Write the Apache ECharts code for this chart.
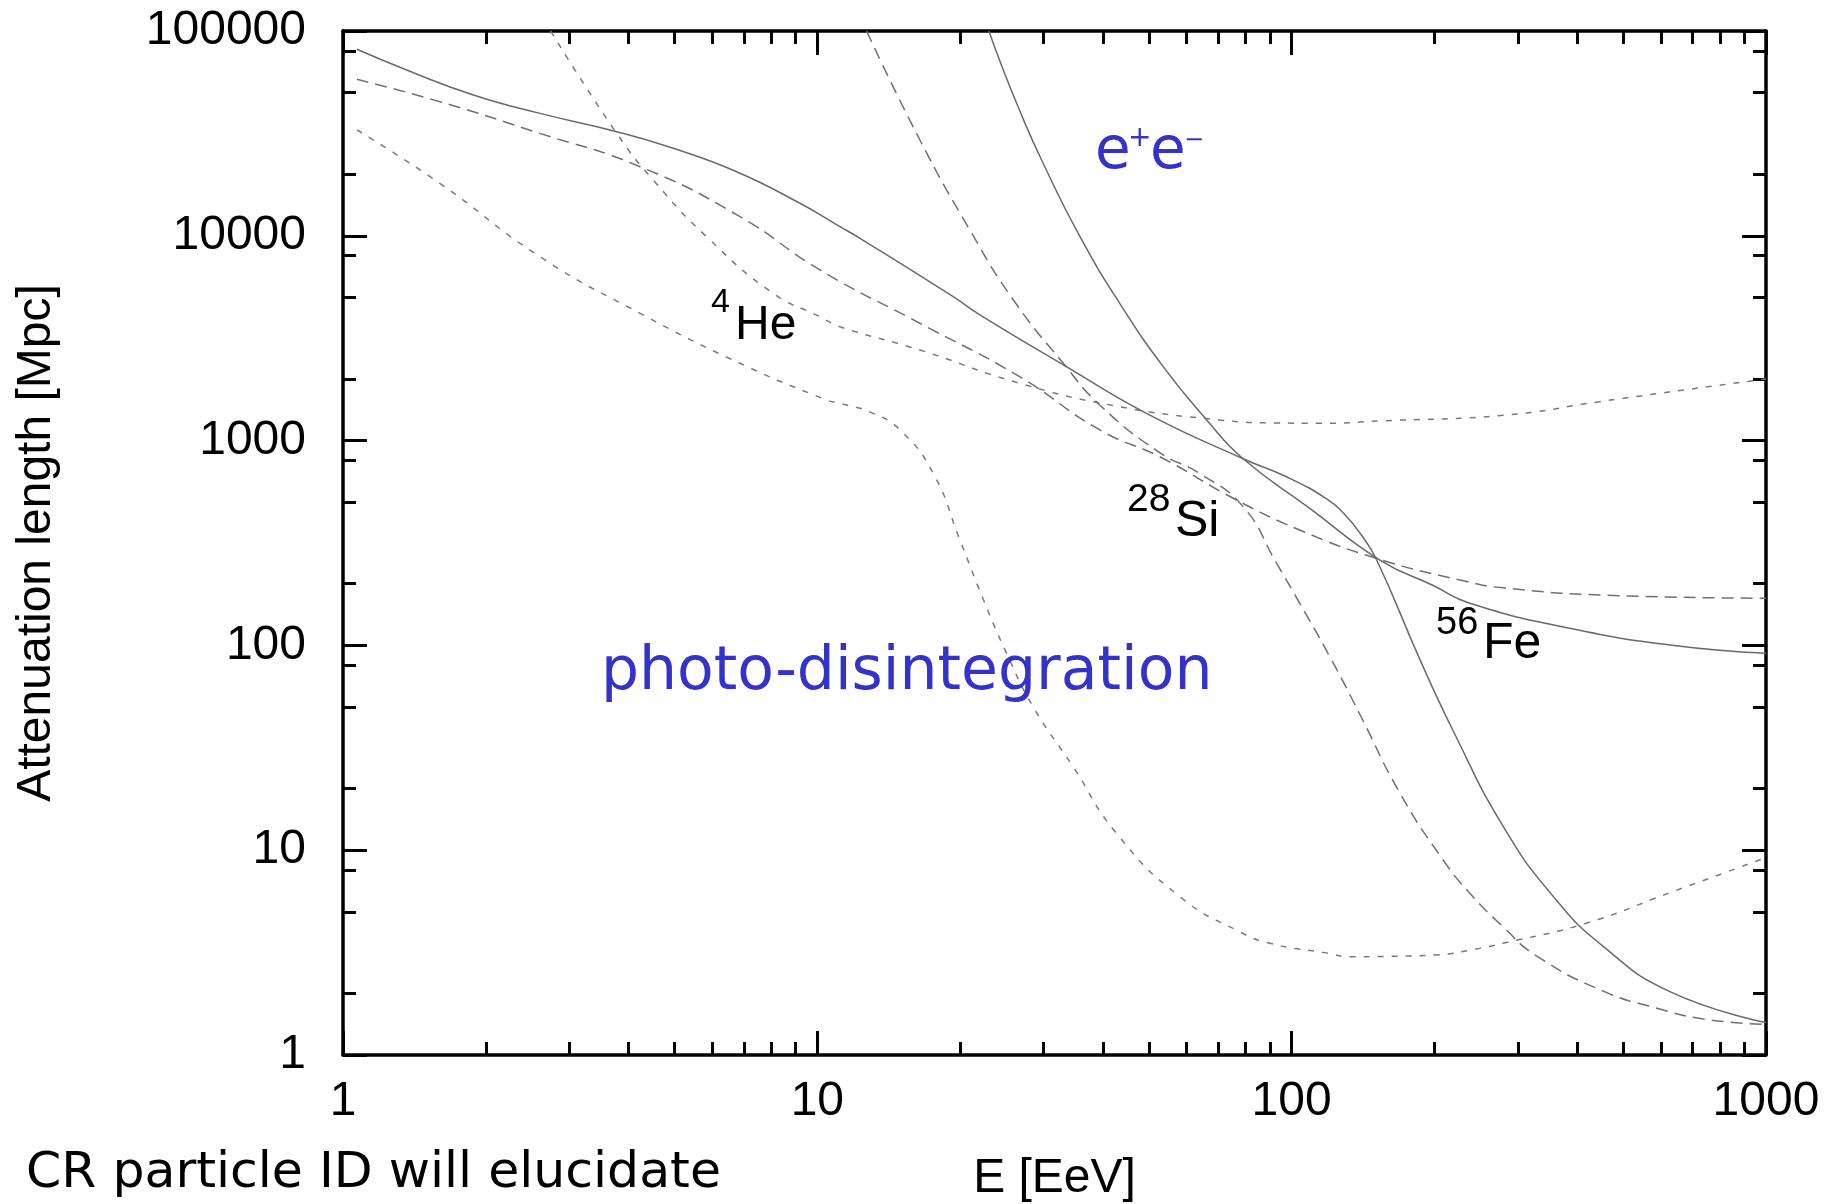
<!DOCTYPE html>
<html>
<head>
<meta charset="utf-8">
<script src="https://cdn.jsdelivr.net/npm/echarts@6/dist/echarts.min.js"></script>
<style>
html,body{margin:0;padding:0;background:#ffffff;}
#chart{width:1848px;height:1204px;}
</style>
</head>
<body>
<div id="chart"></div>
<script>
// ---------- tick values ----------
const xMajorTicks = [1, 10, 100, 1000];
const xMinorTicks = [2, 3, 4, 5, 6, 7, 8, 9, 20, 30, 40, 50, 60, 70, 80, 90, 200, 300, 400, 500, 600, 700, 800, 900];
const yMajorTicks = [1, 10, 100, 1000, 10000, 100000];
const yMinorTicks = [2, 5, 8, 20, 50, 80, 200, 500, 800, 2000, 5000, 8000, 20000, 50000, 80000];

// ---------- 4He (short dashes) ----------
const hePhotoE = [1.07, 1.6, 2.6, 4.23, 6.87, 10.46, 11.16, 13.0, 14.93, 17.55, 19.98, 22.4, 25.06, 28.5, 34.6, 42.7, 58.1, 77.3, 90, 116.5, 135, 156, 202, 242.6, 279, 418, 627, 1000];
const hePhotoL = [32870, 18040, 7910, 4183, 2385, 1578, 1520, 1370, 1127, 692, 327, 167, 91.5, 50.2, 25.6, 12.1, 5.93, 4.02, 3.51, 3.17, 3.02, 3.03, 3.08, 3.28, 3.51, 4.4, 6.2, 9.2];
const hePairE = [2.74, 3.776, 4.51, 5.84, 8.07, 10.13, 11.16, 16.45, 26.7, 43.4, 70.6, 92, 114.7, 156, 280.9, 446, 505, 1000];
const hePairL = [100000, 31640, 18720, 9900, 5240, 4027, 3598, 2769, 1905, 1464, 1261, 1220, 1215, 1250, 1331, 1549, 1615, 2000];

// ---------- 28Si (long dashes) ----------
const siAE = [1.07, 1.6, 2.6, 4.23, 6.87, 10.13, 16.45, 26.7, 39.4, 52.7, 75.3, 104, 151, 233.8, 279, 453.7, 1000];
const siAL = [58080, 45170, 31640, 21740, 12400, 6810, 3740, 2051, 1127, 834, 523, 366, 266, 205, 191, 176, 170];
const siBE = [12.7, 16.45, 20.97, 25.9, 33.0, 39.4, 52.5, 64.0, 79, 92.9, 104, 121.4, 139.3, 169.1, 208.6, 237.5, 279, 328, 453.7, 585, 737, 1000];
const siBL = [100000, 29370, 10670, 4860, 2385, 1493, 878, 690, 476, 252, 160.6, 84.9, 46, 19.0, 8.96, 6.16, 4.23, 3.05, 2.05, 1.70, 1.50, 1.41];

// ---------- 56Fe (solid) ----------
const fePhotoE = [1.07, 1.362, 1.883, 2.602, 3.776, 4.97, 6.76, 9.19, 11.16, 12.3, 19.34, 22.06, 33.5, 49.4, 79, 97.5, 118.5, 128.4, 139.3, 151, 186.3, 219, 279, 355.9, 453.7, 627, 1000];
const fePhotoL = [81400, 64500, 48700, 39600, 32250, 26740, 20560, 14420, 11090, 9720, 5042, 4100, 2296, 1359, 815, 666, 520, 444, 354, 262, 85.5, 38.3, 13.1, 5.95, 3.39, 2.04, 1.44];
const fePairE = [23.0, 24.3, 26.7, 29.7, 35.8, 43.4, 53.6, 66.2, 79, 109.2, 153.5, 198.8, 237.5, 386, 627, 1000];
const fePairL = [100000, 70600, 40900, 23440, 9900, 4680, 2296, 1261, 815, 467, 261, 196, 160.6, 121.2, 100.5, 91.5];

// ---------- styling ----------
const AXIS_COLOR = '#000000';
const AXIS_FONT = 'Liberation Sans';
const BLUE = '#3333cc';

function pairs(E, L) { return E.map((e, i) => [e, L[i]]); }

function curve(name, E, L, color, dash) {
  return {
    name: name, type: 'line', xAxisIndex: 0, yAxisIndex: 0,
    data: pairs(E, L), showSymbol: false, symbol: 'none',
    smooth: 0.5, clip: true, silent: true,
    lineStyle: { color: color, width: 1.5, type: dash },
    z: 3
  };
}

function logAxis(min, max, position, ticks, tickLen, showLine, label, extra) {
  const ax = {
    type: 'log', logBase: 10, min: min, max: max, position: position,
    axisLine: { show: showLine, onZero: false, lineStyle: { color: AXIS_COLOR, width: 3.5 } },
    axisTick: { show: true, inside: true, length: tickLen, customValues: ticks,
                lineStyle: { color: AXIS_COLOR, width: 3 } },
    axisLabel: label ? label : { show: false },
    splitLine: { show: false },
    minorTick: { show: false },
    minorSplitLine: { show: false },
    axisPointer: { show: false }
  };
  return Object.assign(ax, extra || {});
}

const xLabel = {
  show: true, customValues: xMajorTicks,
  formatter: v => String(Math.round(v)),
  fontSize: 48, fontFamily: AXIS_FONT, color: '#000', margin: 23
};
const yLabel = {
  show: true, customValues: yMajorTicks,
  formatter: v => String(Math.round(v)),
  fontSize: 48, fontFamily: AXIS_FONT, color: '#000', margin: 37
};

const chart = echarts.init(document.getElementById('chart'), null, { renderer: 'canvas' });

const option = {
  backgroundColor: '#ffffff',
  animation: false,
  grid: { left: 343, right: 82, top: 31, bottom: 149, outerBoundsMode: 'none', containLabel: false },
  xAxis: [
    logAxis(1, 1000, 'bottom', xMajorTicks, 24, true, xLabel, {
      name: 'E [EeV]', nameLocation: 'middle', nameGap: 100,
      nameTextStyle: { fontSize: 48, fontFamily: AXIS_FONT, color: '#000' }
    }),
    logAxis(1, 1000, 'bottom', xMinorTicks, 13, false, null),
    logAxis(1, 1000, 'top', xMajorTicks, 24, true, null),
    logAxis(1, 1000, 'top', xMinorTicks, 13, false, null)
  ],
  yAxis: [
    logAxis(1, 100000, 'left', yMajorTicks, 24, true, yLabel, {
      name: 'Attenuation length [Mpc]', nameLocation: 'middle', nameGap: 282, nameRotate: 90,
      nameTextStyle: { fontSize: 48, fontFamily: AXIS_FONT, color: '#000' }
    }),
    logAxis(1, 100000, 'left', yMinorTicks, 13, false, null),
    logAxis(1, 100000, 'right', yMajorTicks, 24, true, null),
    logAxis(1, 100000, 'right', yMinorTicks, 13, false, null)
  ],
  series: [
    curve('4He photo-disintegration', hePhotoE, hePhotoL, '#7a7a7a', [6, 8]),
    curve('4He e+e-', hePairE, hePairL, '#7a7a7a', [6, 8]),
    curve('28Si a', siAE, siAL, '#707070', [12, 7]),
    curve('28Si b', siBE, siBL, '#707070', [12, 7]),
    curve('56Fe photo-disintegration', fePhotoE, fePhotoL, '#6a6a6a', 'solid'),
    curve('56Fe e+e-', fePairE, fePairL, '#6a6a6a', 'solid')
  ],
  graphic: [
    // isotope labels
    { type: 'text', x: 711, y: 286, z: 10, style: { text: '4', font: '34px "Liberation Sans"', fill: '#000', align: 'left', verticalAlign: 'top' } },
    { type: 'text', x: 735, y: 302, z: 10, style: { text: 'He', font: '48px "Liberation Sans"', fill: '#000', align: 'left', verticalAlign: 'top' } },
    { type: 'text', x: 1127, y: 481, z: 10, style: { text: '28', font: '39px "Liberation Sans"', fill: '#000', align: 'left', verticalAlign: 'top' } },
    { type: 'text', x: 1175, y: 497, z: 10, style: { text: 'Si', font: '50px "Liberation Sans"', fill: '#000', align: 'left', verticalAlign: 'top' } },
    { type: 'text', x: 1436, y: 605, z: 10, style: { text: '56', font: '38px "Liberation Sans"', fill: '#000', align: 'left', verticalAlign: 'top' } },
    { type: 'text', x: 1483, y: 619, z: 10, style: { text: 'Fe', font: '50px "Liberation Sans"', fill: '#000', align: 'left', verticalAlign: 'top' } },
    // blue process labels
    { type: 'text', x: 601, y: 643, z: 10, style: { text: 'photo-disintegration', font: '60px "DejaVu Sans"', fill: BLUE, align: 'left', verticalAlign: 'top' } },
    { type: 'text', x: 1095, y: 124, z: 10, style: { text: 'e', font: '58px "DejaVu Sans"', fill: BLUE, align: 'left', verticalAlign: 'top' } },
    { type: 'text', x: 1128, y: 139, z: 10, style: { text: '+', font: '28px "DejaVu Sans"', fill: BLUE, align: 'left', verticalAlign: 'middle' } },
    { type: 'text', x: 1150, y: 124, z: 10, style: { text: 'e', font: '58px "DejaVu Sans"', fill: BLUE, align: 'left', verticalAlign: 'top' } },
    { type: 'text', x: 1184, y: 141, z: 10, style: { text: '\u2212', font: '24px "DejaVu Sans"', fill: BLUE, align: 'left', verticalAlign: 'middle' } },
    // caption
    { type: 'text', x: 26, y: 1148, z: 10, style: { text: 'CR particle ID will elucidate', font: '50.5px "DejaVu Sans"', fill: '#000', align: 'left', verticalAlign: 'top' } }
  ]
};

chart.setOption(option);
</script>
</body>
</html>
